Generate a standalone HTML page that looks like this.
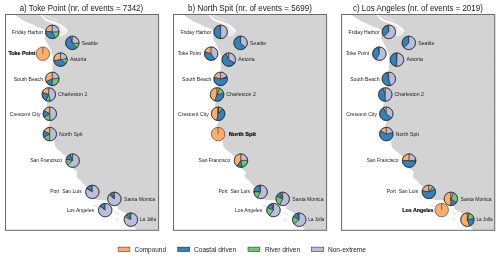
<!DOCTYPE html>
<html><head><meta charset="utf-8"><style>
html,body{margin:0;padding:0;background:#fff;width:500px;height:258px;overflow:hidden}
svg{display:block;will-change:transform}
text{font-family:"Liberation Sans",sans-serif;fill:#1a1a1a}
.e{stroke:#1e1e1e;stroke-width:0.55}
</style></head><body>
<svg width="500" height="258" viewBox="0 0 500 258"><g style="opacity:0.999">
<g>
<polygon points="14.60,14.50 18.50,17.20 22.80,19.90 26.00,22.10 31.40,24.00 36.90,26.70 41.20,27.90 43.90,29.70 45.70,30.50 44.90,35.10 44.50,38.50 47.10,42.80 49.20,47.00 50.90,50.40 51.70,52.00 52.60,56.00 52.60,60.90 52.40,68.50 52.60,72.00 52.00,78.00 50.60,86.00 48.50,95.00 47.10,103.10 46.60,106.50 47.50,112.00 49.00,118.00 50.00,122.00 48.50,126.00 46.80,129.00 47.50,134.00 53.60,139.40 54.50,142.40 55.30,147.10 58.30,150.00 62.10,153.00 65.60,156.00 69.00,162.00 72.20,167.90 75.20,170.00 77.70,172.60 76.40,174.30 76.90,178.00 80.00,180.00 83.00,183.40 86.00,186.40 89.00,193.00 92.50,198.80 99.30,200.10 107.00,200.50 112.00,203.00 117.20,205.60 118.00,209.10 125.30,213.00 130.00,220.00 133.90,226.00 136.00,229.50 136.50,230.30 158.60,230.30 158.60,14.50" fill="#d3d3d3"/>
<polygon points="41.50,14.50 43.00,15.50 44.20,17.30 45.50,17.80 46.50,19.00 48.50,19.60 50.00,20.60 52.50,21.00 54.50,21.60 56.50,22.80 58.50,23.20 60.50,24.50 62.50,25.30 64.00,26.80 65.50,27.40 67.00,29.50 68.00,31.50 67.00,32.00 65.50,30.50 63.50,29.50 61.50,27.50 59.50,26.60 57.50,25.30 55.00,24.60 53.00,23.40 50.50,23.00 48.00,21.80 46.00,21.20 44.00,19.60 42.50,17.60 40.50,15.80 39.20,14.50" fill="#fff" opacity="0.92"/>
<polyline points="44.50,14.60 47.00,16.30 50.00,17.20 53.00,18.80 56.00,19.60 58.00,21.00" fill="none" stroke="#fff" stroke-width="0.8" stroke-linejoin="round" opacity="0.7"/>
<polygon points="58.80,27.50 63.00,27.20 66.50,30.00 67.20,33.00 64.00,35.80 60.00,36.50 58.80,33.00" fill="#fff" opacity="0.6"/>
<ellipse cx="47.50" cy="20.2" rx="0.7" ry="0.4" fill="#d3d3d3" opacity="0.7"/>
<ellipse cx="53.00" cy="22.2" rx="0.8" ry="0.4" fill="#d3d3d3" opacity="0.7"/>
<ellipse cx="58.00" cy="24.4" rx="0.7" ry="0.4" fill="#d3d3d3" opacity="0.7"/>
<ellipse cx="62.50" cy="26.8" rx="0.6" ry="0.4" fill="#d3d3d3" opacity="0.7"/>
<line x1="94.2" y1="205.2" x2="98" y2="206.6" stroke="#d3d3d3" stroke-width="1.0"/>
<line x1="115.5" y1="212.1" x2="119.3" y2="214.6" stroke="#d3d3d3" stroke-width="1.0"/>
<line x1="115.5" y1="218" x2="118.5" y2="220.6" stroke="#d3d3d3" stroke-width="1.0"/>
<rect x="5.5" y="14.5" width="153.1" height="215.8" fill="none" stroke="#6a6a6a" stroke-width="1.0"/>
<path d="M52.30,31.90L52.30,25.15A6.75,6.75 0 0 0 45.58,31.30Z" fill="#fdae6b" class="e"/>
<path d="M52.30,31.90L45.58,31.30A6.75,6.75 0 0 0 55.38,37.91Z" fill="#3182bd" class="e"/>
<path d="M52.30,31.90L55.38,37.91A6.75,6.75 0 0 0 59.05,31.68Z" fill="#74c476" class="e"/>
<path d="M52.30,31.90L59.05,31.68A6.75,6.75 0 0 0 52.30,25.15Z" fill="#bcbddc" class="e"/>
<circle cx="52.30" cy="31.90" r="6.75" fill="none" class="e"/>
<text x="12.10" y="34" font-size="4.9" textLength="31.00" lengthAdjust="spacingAndGlyphs">Friday Harbor</text>
<path d="M72.30,42.90L72.30,36.15A6.75,6.75 0 0 0 70.42,36.42Z" fill="#fdae6b" class="e"/>
<path d="M72.30,42.90L70.42,36.42A6.75,6.75 0 1 0 77.07,47.67Z" fill="#3182bd" class="e"/>
<path d="M72.30,42.90L77.07,47.67A6.75,6.75 0 0 0 79.04,43.32Z" fill="#74c476" class="e"/>
<path d="M72.30,42.90L79.04,43.32A6.75,6.75 0 0 0 72.30,36.15Z" fill="#bcbddc" class="e"/>
<circle cx="72.30" cy="42.90" r="6.75" fill="none" class="e"/>
<text x="81.80" y="45" font-size="4.9" textLength="16.00" lengthAdjust="spacingAndGlyphs">Seattle</text>
<circle cx="42.90" cy="53.70" r="6.75" fill="#fdae6b"/>
<line x1="42.90" y1="53.70" x2="42.90" y2="46.95" class="e"/>
<circle cx="42.90" cy="53.70" r="6.75" fill="none" class="e"/>
<text x="8.40" y="55" font-size="4.9" textLength="26.85" lengthAdjust="spacingAndGlyphs" font-weight="bold" style="fill:#000;stroke:#000;stroke-width:0.15">Toke Point</text>
<path d="M60.50,59.65L60.50,52.90A6.75,6.75 0 0 0 53.87,60.91Z" fill="#fdae6b" class="e"/>
<path d="M60.50,59.65L53.87,60.91A6.75,6.75 0 0 0 66.08,63.44Z" fill="#3182bd" class="e"/>
<path d="M60.50,59.65L66.08,63.44A6.75,6.75 0 0 0 67.13,58.39Z" fill="#74c476" class="e"/>
<path d="M60.50,59.65L67.13,58.39A6.75,6.75 0 0 0 60.50,52.90Z" fill="#bcbddc" class="e"/>
<circle cx="60.50" cy="59.65" r="6.75" fill="none" class="e"/>
<text x="70.00" y="61" font-size="4.9" textLength="16.30" lengthAdjust="spacingAndGlyphs">Astoria</text>
<path d="M52.30,78.90L52.30,72.15A6.75,6.75 0 0 0 46.19,81.77Z" fill="#fdae6b" class="e"/>
<path d="M52.30,78.90L46.19,81.77A6.75,6.75 0 0 0 52.30,85.65Z" fill="#3182bd" class="e"/>
<path d="M52.30,78.90L52.30,85.65A6.75,6.75 0 0 0 59.00,78.05Z" fill="#74c476" class="e"/>
<path d="M52.30,78.90L59.00,78.05A6.75,6.75 0 0 0 52.30,72.15Z" fill="#bcbddc" class="e"/>
<circle cx="52.30" cy="78.90" r="6.75" fill="none" class="e"/>
<text x="13.70" y="81" font-size="4.9" textLength="29.30" lengthAdjust="spacingAndGlyphs">South Beach</text>
<path d="M48.80,94.50L48.80,87.75A6.75,6.75 0 0 0 42.38,92.41Z" fill="#fdae6b" class="e"/>
<path d="M48.80,94.50L42.38,92.41A6.75,6.75 0 0 0 45.93,100.61Z" fill="#3182bd" class="e"/>
<path d="M48.80,94.50L45.93,100.61A6.75,6.75 0 0 0 50.48,101.04Z" fill="#74c476" class="e"/>
<path d="M48.80,94.50L50.48,101.04A6.75,6.75 0 0 0 48.80,87.75Z" fill="#bcbddc" class="e"/>
<circle cx="48.80" cy="94.50" r="6.75" fill="none" class="e"/>
<text x="58.00" y="96" font-size="4.9" textLength="29.50" lengthAdjust="spacingAndGlyphs">Charleston 2</text>
<path d="M49.80,113.80L49.80,107.05A6.75,6.75 0 0 0 43.88,110.55Z" fill="#fdae6b" class="e"/>
<path d="M49.80,113.80L43.88,110.55A6.75,6.75 0 0 0 44.10,117.42Z" fill="#3182bd" class="e"/>
<path d="M49.80,113.80L44.10,117.42A6.75,6.75 0 0 0 50.22,120.54Z" fill="#74c476" class="e"/>
<path d="M49.80,113.80L50.22,120.54A6.75,6.75 0 0 0 49.80,107.05Z" fill="#bcbddc" class="e"/>
<circle cx="49.80" cy="113.80" r="6.75" fill="none" class="e"/>
<text x="9.70" y="116" font-size="4.9" textLength="30.80" lengthAdjust="spacingAndGlyphs">Crescent City</text>
<path d="M49.80,134.10L49.80,127.35A6.75,6.75 0 0 0 43.94,130.76Z" fill="#fdae6b" class="e"/>
<path d="M49.80,134.10L43.94,130.76A6.75,6.75 0 0 0 43.84,137.28Z" fill="#3182bd" class="e"/>
<path d="M49.80,134.10L43.84,137.28A6.75,6.75 0 0 0 49.74,140.85Z" fill="#74c476" class="e"/>
<path d="M49.80,134.10L49.74,140.85A6.75,6.75 0 1 0 49.80,127.35Z" fill="#bcbddc" class="e"/>
<circle cx="49.80" cy="134.10" r="6.75" fill="none" class="e"/>
<text x="59.10" y="136" font-size="4.9" textLength="23.40" lengthAdjust="spacingAndGlyphs">North Spit</text>
<path d="M72.65,160.65L72.65,153.90A6.75,6.75 0 0 0 70.18,154.37Z" fill="#fdae6b" class="e"/>
<path d="M72.65,160.65L70.18,154.37A6.75,6.75 0 0 0 66.07,159.13Z" fill="#3182bd" class="e"/>
<path d="M72.65,160.65L66.07,159.13A6.75,6.75 0 0 0 67.82,165.37Z" fill="#74c476" class="e"/>
<path d="M72.65,160.65L67.82,165.37A6.75,6.75 0 1 0 72.65,153.90Z" fill="#bcbddc" class="e"/>
<circle cx="72.65" cy="160.65" r="6.75" fill="none" class="e"/>
<text x="30.30" y="162" font-size="4.9" textLength="31.70" lengthAdjust="spacingAndGlyphs">San Francisco</text>
<path d="M92.30,191.90L92.30,185.15A6.75,6.75 0 0 0 86.77,188.04Z" fill="#3182bd" class="e"/>
<path d="M92.30,191.90L86.77,188.04A6.75,6.75 0 0 0 86.49,188.46Z" fill="#74c476" class="e"/>
<path d="M92.30,191.90L86.49,188.46A6.75,6.75 0 1 0 92.30,185.15Z" fill="#bcbddc" class="e"/>
<circle cx="92.30" cy="191.90" r="6.75" fill="none" class="e"/>
<text x="50.20" y="193" font-size="4.9" textLength="31.50" lengthAdjust="spacingAndGlyphs">Port&#160; San Luis</text>
<path d="M114.40,198.90L114.40,192.15A6.75,6.75 0 0 0 110.43,193.44Z" fill="#3182bd" class="e"/>
<path d="M114.40,198.90L110.43,193.44A6.75,6.75 0 0 0 109.07,194.76Z" fill="#74c476" class="e"/>
<path d="M114.40,198.90L109.07,194.76A6.75,6.75 0 1 0 114.40,192.15Z" fill="#bcbddc" class="e"/>
<circle cx="114.40" cy="198.90" r="6.75" fill="none" class="e"/>
<text x="124.00" y="201" font-size="4.9" textLength="31.20" lengthAdjust="spacingAndGlyphs">Santa Monica</text>
<path d="M105.20,210.10L105.20,203.35A6.75,6.75 0 0 0 100.28,205.48Z" fill="#3182bd" class="e"/>
<path d="M105.20,210.10L100.28,205.48A6.75,6.75 0 0 0 99.74,206.13Z" fill="#74c476" class="e"/>
<path d="M105.20,210.10L99.74,206.13A6.75,6.75 0 1 0 105.20,203.35Z" fill="#bcbddc" class="e"/>
<circle cx="105.20" cy="210.10" r="6.75" fill="none" class="e"/>
<text x="66.80" y="212" font-size="4.9" textLength="27.20" lengthAdjust="spacingAndGlyphs">Los Angeles</text>
<path d="M130.90,219.70L130.90,212.95A6.75,6.75 0 0 0 126.28,214.78Z" fill="#3182bd" class="e"/>
<path d="M130.90,219.70L126.28,214.78A6.75,6.75 0 0 0 124.79,216.83Z" fill="#74c476" class="e"/>
<path d="M130.90,219.70L124.79,216.83A6.75,6.75 0 1 0 130.90,212.95Z" fill="#bcbddc" class="e"/>
<circle cx="130.90" cy="219.70" r="6.75" fill="none" class="e"/>
<text x="139.90" y="221" font-size="4.9" textLength="16.10" lengthAdjust="spacingAndGlyphs">La Jolla</text>
</g>
<g>
<polygon points="182.90,14.50 186.80,17.20 191.10,19.90 194.30,22.10 199.70,24.00 205.20,26.70 209.50,27.90 212.20,29.70 214.00,30.50 213.20,35.10 212.80,38.50 215.40,42.80 217.50,47.00 219.20,50.40 220.00,52.00 220.90,56.00 220.90,60.90 220.70,68.50 220.90,72.00 220.30,78.00 218.90,86.00 216.80,95.00 215.40,103.10 214.90,106.50 215.80,112.00 217.30,118.00 218.30,122.00 216.80,126.00 215.10,129.00 215.80,134.00 221.90,139.40 222.80,142.40 223.60,147.10 226.60,150.00 230.40,153.00 233.90,156.00 237.30,162.00 240.50,167.90 243.50,170.00 246.00,172.60 244.70,174.30 245.20,178.00 248.30,180.00 251.30,183.40 254.30,186.40 257.30,193.00 260.80,198.80 267.60,200.10 275.30,200.50 280.30,203.00 285.50,205.60 286.30,209.10 293.60,213.00 298.30,220.00 302.20,226.00 304.30,229.50 304.80,230.30 326.90,230.30 326.90,14.50" fill="#d3d3d3"/>
<polygon points="209.80,14.50 211.30,15.50 212.50,17.30 213.80,17.80 214.80,19.00 216.80,19.60 218.30,20.60 220.80,21.00 222.80,21.60 224.80,22.80 226.80,23.20 228.80,24.50 230.80,25.30 232.30,26.80 233.80,27.40 235.30,29.50 236.30,31.50 235.30,32.00 233.80,30.50 231.80,29.50 229.80,27.50 227.80,26.60 225.80,25.30 223.30,24.60 221.30,23.40 218.80,23.00 216.30,21.80 214.30,21.20 212.30,19.60 210.80,17.60 208.80,15.80 207.50,14.50" fill="#fff" opacity="0.92"/>
<polyline points="212.80,14.60 215.30,16.30 218.30,17.20 221.30,18.80 224.30,19.60 226.30,21.00" fill="none" stroke="#fff" stroke-width="0.8" stroke-linejoin="round" opacity="0.7"/>
<polygon points="227.10,27.50 231.30,27.20 234.80,30.00 235.50,33.00 232.30,35.80 228.30,36.50 227.10,33.00" fill="#fff" opacity="0.6"/>
<ellipse cx="215.80" cy="20.2" rx="0.7" ry="0.4" fill="#d3d3d3" opacity="0.7"/>
<ellipse cx="221.30" cy="22.2" rx="0.8" ry="0.4" fill="#d3d3d3" opacity="0.7"/>
<ellipse cx="226.30" cy="24.4" rx="0.7" ry="0.4" fill="#d3d3d3" opacity="0.7"/>
<ellipse cx="230.80" cy="26.8" rx="0.6" ry="0.4" fill="#d3d3d3" opacity="0.7"/>
<line x1="262.5" y1="205.2" x2="266.3" y2="206.6" stroke="#d3d3d3" stroke-width="1.0"/>
<line x1="283.8" y1="212.1" x2="287.6" y2="214.6" stroke="#d3d3d3" stroke-width="1.0"/>
<line x1="283.8" y1="218" x2="286.8" y2="220.6" stroke="#d3d3d3" stroke-width="1.0"/>
<rect x="173.5" y="14.5" width="153.1" height="215.8" fill="none" stroke="#6a6a6a" stroke-width="1.0"/>
<path d="M220.60,31.90L220.60,25.15A6.75,6.75 0 0 0 219.96,25.18Z" fill="#fdae6b" class="e"/>
<path d="M220.60,31.90L219.96,25.18A6.75,6.75 0 0 0 220.81,38.65Z" fill="#3182bd" class="e"/>
<path d="M220.60,31.90L220.81,38.65A6.75,6.75 0 0 0 220.60,25.15Z" fill="#bcbddc" class="e"/>
<circle cx="220.60" cy="31.90" r="6.75" fill="none" class="e"/>
<text x="180.40" y="34" font-size="4.9" textLength="31.00" lengthAdjust="spacingAndGlyphs">Friday Harbor</text>
<path d="M240.60,42.90L240.60,36.15A6.75,6.75 0 0 0 240.39,36.15Z" fill="#fdae6b" class="e"/>
<path d="M240.60,42.90L240.39,36.15A6.75,6.75 0 1 0 245.52,47.52Z" fill="#3182bd" class="e"/>
<path d="M240.60,42.90L245.52,47.52A6.75,6.75 0 0 0 240.60,36.15Z" fill="#bcbddc" class="e"/>
<circle cx="240.60" cy="42.90" r="6.75" fill="none" class="e"/>
<text x="250.10" y="45" font-size="4.9" textLength="16.00" lengthAdjust="spacingAndGlyphs">Seattle</text>
<path d="M211.20,53.70L211.20,46.95A6.75,6.75 0 0 0 204.66,52.01Z" fill="#fdae6b" class="e"/>
<path d="M211.20,53.70L204.66,52.01A6.75,6.75 0 0 0 215.01,59.27Z" fill="#3182bd" class="e"/>
<path d="M211.20,53.70L215.01,59.27A6.75,6.75 0 0 0 211.20,46.95Z" fill="#bcbddc" class="e"/>
<circle cx="211.20" cy="53.70" r="6.75" fill="none" class="e"/>
<text x="177.70" y="55" font-size="4.9" textLength="23.20" lengthAdjust="spacingAndGlyphs">Toke Point</text>
<path d="M228.80,59.65L228.80,52.90A6.75,6.75 0 0 0 225.93,53.54Z" fill="#fdae6b" class="e"/>
<path d="M228.80,59.65L225.93,53.54A6.75,6.75 0 1 0 234.38,63.44Z" fill="#3182bd" class="e"/>
<path d="M228.80,59.65L234.38,63.44A6.75,6.75 0 0 0 234.72,62.90Z" fill="#74c476" class="e"/>
<path d="M228.80,59.65L234.72,62.90A6.75,6.75 0 0 0 228.80,52.90Z" fill="#bcbddc" class="e"/>
<circle cx="228.80" cy="59.65" r="6.75" fill="none" class="e"/>
<text x="238.30" y="61" font-size="4.9" textLength="16.30" lengthAdjust="spacingAndGlyphs">Astoria</text>
<path d="M220.60,78.90L220.60,72.15A6.75,6.75 0 0 0 214.01,77.43Z" fill="#fdae6b" class="e"/>
<path d="M220.60,78.90L214.01,77.43A6.75,6.75 0 1 0 227.17,77.34Z" fill="#3182bd" class="e"/>
<path d="M220.60,78.90L227.17,77.34A6.75,6.75 0 0 0 226.95,76.61Z" fill="#74c476" class="e"/>
<path d="M220.60,78.90L226.95,76.61A6.75,6.75 0 0 0 220.60,72.15Z" fill="#bcbddc" class="e"/>
<circle cx="220.60" cy="78.90" r="6.75" fill="none" class="e"/>
<text x="182.00" y="81" font-size="4.9" textLength="29.30" lengthAdjust="spacingAndGlyphs">South Beach</text>
<path d="M217.10,94.50L217.10,87.75A6.75,6.75 0 0 0 214.81,100.85Z" fill="#fdae6b" class="e"/>
<path d="M217.10,94.50L214.81,100.85A6.75,6.75 0 0 0 223.77,93.44Z" fill="#3182bd" class="e"/>
<path d="M217.10,94.50L223.77,93.44A6.75,6.75 0 0 0 219.39,88.15Z" fill="#74c476" class="e"/>
<path d="M217.10,94.50L219.39,88.15A6.75,6.75 0 0 0 217.10,87.75Z" fill="#bcbddc" class="e"/>
<circle cx="217.10" cy="94.50" r="6.75" fill="none" class="e"/>
<text x="226.30" y="96" font-size="4.9" textLength="29.50" lengthAdjust="spacingAndGlyphs">Charleston 2</text>
<path d="M218.10,113.80L218.10,107.05A6.75,6.75 0 0 0 216.84,120.43Z" fill="#fdae6b" class="e"/>
<path d="M218.10,113.80L216.84,120.43A6.75,6.75 0 0 0 222.40,108.60Z" fill="#3182bd" class="e"/>
<path d="M218.10,113.80L222.40,108.60A6.75,6.75 0 0 0 218.52,107.06Z" fill="#74c476" class="e"/>
<path d="M218.10,113.80L218.52,107.06A6.75,6.75 0 0 0 218.10,107.05Z" fill="#bcbddc" class="e"/>
<circle cx="218.10" cy="113.80" r="6.75" fill="none" class="e"/>
<text x="178.00" y="116" font-size="4.9" textLength="30.80" lengthAdjust="spacingAndGlyphs">Crescent City</text>
<circle cx="218.10" cy="134.10" r="6.75" fill="#fdae6b"/>
<line x1="218.10" y1="134.10" x2="218.10" y2="127.35" class="e"/>
<circle cx="218.10" cy="134.10" r="6.75" fill="none" class="e"/>
<text x="228.70" y="136" font-size="4.9" textLength="27.20" lengthAdjust="spacingAndGlyphs" font-weight="bold" style="fill:#000;stroke:#000;stroke-width:0.15">North Spit</text>
<path d="M240.95,160.65L240.95,153.90A6.75,6.75 0 0 0 236.98,166.11Z" fill="#fdae6b" class="e"/>
<path d="M240.95,160.65L236.98,166.11A6.75,6.75 0 0 0 242.21,167.28Z" fill="#3182bd" class="e"/>
<path d="M240.95,160.65L242.21,167.28A6.75,6.75 0 0 0 247.69,160.23Z" fill="#74c476" class="e"/>
<path d="M240.95,160.65L247.69,160.23A6.75,6.75 0 0 0 240.95,153.90Z" fill="#bcbddc" class="e"/>
<circle cx="240.95" cy="160.65" r="6.75" fill="none" class="e"/>
<text x="198.60" y="162" font-size="4.9" textLength="31.70" lengthAdjust="spacingAndGlyphs">San Francisco</text>
<path d="M260.60,191.90L260.60,185.15A6.75,6.75 0 0 0 259.34,185.27Z" fill="#fdae6b" class="e"/>
<path d="M260.60,191.90L259.34,185.27A6.75,6.75 0 0 0 253.85,191.90Z" fill="#3182bd" class="e"/>
<path d="M260.60,191.90L253.85,191.90A6.75,6.75 0 0 0 257.54,197.91Z" fill="#74c476" class="e"/>
<path d="M260.60,191.90L257.54,197.91A6.75,6.75 0 1 0 260.60,185.15Z" fill="#bcbddc" class="e"/>
<circle cx="260.60" cy="191.90" r="6.75" fill="none" class="e"/>
<text x="218.50" y="193" font-size="4.9" textLength="31.50" lengthAdjust="spacingAndGlyphs">Port&#160; San Luis</text>
<path d="M282.70,198.90L282.70,192.15A6.75,6.75 0 0 0 280.41,192.55Z" fill="#fdae6b" class="e"/>
<path d="M282.70,198.90L280.41,192.55A6.75,6.75 0 0 0 276.42,196.42Z" fill="#3182bd" class="e"/>
<path d="M282.70,198.90L276.42,196.42A6.75,6.75 0 0 0 279.83,205.01Z" fill="#74c476" class="e"/>
<path d="M282.70,198.90L279.83,205.01A6.75,6.75 0 1 0 282.70,192.15Z" fill="#bcbddc" class="e"/>
<circle cx="282.70" cy="198.90" r="6.75" fill="none" class="e"/>
<text x="292.30" y="201" font-size="4.9" textLength="31.20" lengthAdjust="spacingAndGlyphs">Santa Monica</text>
<path d="M273.50,210.10L273.50,203.35A6.75,6.75 0 0 0 271.82,203.56Z" fill="#fdae6b" class="e"/>
<path d="M273.50,210.10L271.82,203.56A6.75,6.75 0 0 0 267.22,207.62Z" fill="#3182bd" class="e"/>
<path d="M273.50,210.10L267.22,207.62A6.75,6.75 0 0 0 269.53,215.56Z" fill="#74c476" class="e"/>
<path d="M273.50,210.10L269.53,215.56A6.75,6.75 0 1 0 273.50,203.35Z" fill="#bcbddc" class="e"/>
<circle cx="273.50" cy="210.10" r="6.75" fill="none" class="e"/>
<text x="235.10" y="212" font-size="4.9" textLength="27.20" lengthAdjust="spacingAndGlyphs">Los Angeles</text>
<path d="M299.20,219.70L299.20,212.95A6.75,6.75 0 0 0 298.14,213.03Z" fill="#fdae6b" class="e"/>
<path d="M299.20,219.70L298.14,213.03A6.75,6.75 0 0 0 293.09,216.83Z" fill="#3182bd" class="e"/>
<path d="M299.20,219.70L293.09,216.83A6.75,6.75 0 0 0 294.14,224.16Z" fill="#74c476" class="e"/>
<path d="M299.20,219.70L294.14,224.16A6.75,6.75 0 1 0 299.20,212.95Z" fill="#bcbddc" class="e"/>
<circle cx="299.20" cy="219.70" r="6.75" fill="none" class="e"/>
<text x="308.20" y="221" font-size="4.9" textLength="16.10" lengthAdjust="spacingAndGlyphs">La Jolla</text>
</g>
<g>
<polygon points="351.10,14.50 355.00,17.20 359.30,19.90 362.50,22.10 367.90,24.00 373.40,26.70 377.70,27.90 380.40,29.70 382.20,30.50 381.40,35.10 381.00,38.50 383.60,42.80 385.70,47.00 387.40,50.40 388.20,52.00 389.10,56.00 389.10,60.90 388.90,68.50 389.10,72.00 388.50,78.00 387.10,86.00 385.00,95.00 383.60,103.10 383.10,106.50 384.00,112.00 385.50,118.00 386.50,122.00 385.00,126.00 383.30,129.00 384.00,134.00 390.10,139.40 391.00,142.40 391.80,147.10 394.80,150.00 398.60,153.00 402.10,156.00 405.50,162.00 408.70,167.90 411.70,170.00 414.20,172.60 412.90,174.30 413.40,178.00 416.50,180.00 419.50,183.40 422.50,186.40 425.50,193.00 429.00,198.80 435.80,200.10 443.50,200.50 448.50,203.00 453.70,205.60 454.50,209.10 461.80,213.00 466.50,220.00 470.40,226.00 472.50,229.50 473.00,230.30 495.10,230.30 495.10,14.50" fill="#d3d3d3"/>
<polygon points="378.00,14.50 379.50,15.50 380.70,17.30 382.00,17.80 383.00,19.00 385.00,19.60 386.50,20.60 389.00,21.00 391.00,21.60 393.00,22.80 395.00,23.20 397.00,24.50 399.00,25.30 400.50,26.80 402.00,27.40 403.50,29.50 404.50,31.50 403.50,32.00 402.00,30.50 400.00,29.50 398.00,27.50 396.00,26.60 394.00,25.30 391.50,24.60 389.50,23.40 387.00,23.00 384.50,21.80 382.50,21.20 380.50,19.60 379.00,17.60 377.00,15.80 375.70,14.50" fill="#fff" opacity="0.92"/>
<polyline points="381.00,14.60 383.50,16.30 386.50,17.20 389.50,18.80 392.50,19.60 394.50,21.00" fill="none" stroke="#fff" stroke-width="0.8" stroke-linejoin="round" opacity="0.7"/>
<polygon points="395.30,27.50 399.50,27.20 403.00,30.00 403.70,33.00 400.50,35.80 396.50,36.50 395.30,33.00" fill="#fff" opacity="0.6"/>
<ellipse cx="384.00" cy="20.2" rx="0.7" ry="0.4" fill="#d3d3d3" opacity="0.7"/>
<ellipse cx="389.50" cy="22.2" rx="0.8" ry="0.4" fill="#d3d3d3" opacity="0.7"/>
<ellipse cx="394.50" cy="24.4" rx="0.7" ry="0.4" fill="#d3d3d3" opacity="0.7"/>
<ellipse cx="399.00" cy="26.8" rx="0.6" ry="0.4" fill="#d3d3d3" opacity="0.7"/>
<line x1="430.7" y1="205.2" x2="434.5" y2="206.6" stroke="#d3d3d3" stroke-width="1.0"/>
<line x1="452.0" y1="212.1" x2="455.8" y2="214.6" stroke="#d3d3d3" stroke-width="1.0"/>
<line x1="452.0" y1="218" x2="455.0" y2="220.6" stroke="#d3d3d3" stroke-width="1.0"/>
<rect x="341.6" y="14.5" width="153.1" height="215.8" fill="none" stroke="#6a6a6a" stroke-width="1.0"/>
<path d="M388.80,31.90L388.80,25.15A6.75,6.75 0 0 0 387.54,25.27Z" fill="#fdae6b" class="e"/>
<path d="M388.80,31.90L387.54,25.27A6.75,6.75 0 0 0 383.88,36.52Z" fill="#3182bd" class="e"/>
<path d="M388.80,31.90L383.88,36.52A6.75,6.75 0 1 0 388.80,25.15Z" fill="#bcbddc" class="e"/>
<circle cx="388.80" cy="31.90" r="6.75" fill="none" class="e"/>
<text x="348.60" y="34" font-size="4.9" textLength="31.00" lengthAdjust="spacingAndGlyphs">Friday Harbor</text>
<path d="M408.80,42.90L408.80,36.15A6.75,6.75 0 0 0 408.38,36.16Z" fill="#fdae6b" class="e"/>
<path d="M408.80,42.90L408.38,36.16A6.75,6.75 0 0 0 404.18,47.82Z" fill="#3182bd" class="e"/>
<path d="M408.80,42.90L404.18,47.82A6.75,6.75 0 1 0 408.80,36.15Z" fill="#bcbddc" class="e"/>
<circle cx="408.80" cy="42.90" r="6.75" fill="none" class="e"/>
<text x="418.30" y="45" font-size="4.9" textLength="16.00" lengthAdjust="spacingAndGlyphs">Seattle</text>
<path d="M379.40,53.70L379.40,46.95A6.75,6.75 0 0 0 377.93,47.11Z" fill="#fdae6b" class="e"/>
<path d="M379.40,53.70L377.93,47.11A6.75,6.75 0 0 0 376.15,59.62Z" fill="#3182bd" class="e"/>
<path d="M379.40,53.70L376.15,59.62A6.75,6.75 0 1 0 379.40,46.95Z" fill="#bcbddc" class="e"/>
<circle cx="379.40" cy="53.70" r="6.75" fill="none" class="e"/>
<text x="345.90" y="55" font-size="4.9" textLength="23.20" lengthAdjust="spacingAndGlyphs">Toke Point</text>
<path d="M397.00,59.65L397.00,52.90A6.75,6.75 0 0 0 395.94,52.98Z" fill="#fdae6b" class="e"/>
<path d="M397.00,59.65L395.94,52.98A6.75,6.75 0 0 0 396.58,66.39Z" fill="#3182bd" class="e"/>
<path d="M397.00,59.65L396.58,66.39A6.75,6.75 0 1 0 397.00,52.90Z" fill="#bcbddc" class="e"/>
<circle cx="397.00" cy="59.65" r="6.75" fill="none" class="e"/>
<text x="406.50" y="61" font-size="4.9" textLength="16.30" lengthAdjust="spacingAndGlyphs">Astoria</text>
<path d="M388.80,78.90L388.80,72.15A6.75,6.75 0 0 0 387.12,72.36Z" fill="#fdae6b" class="e"/>
<path d="M388.80,78.90L387.12,72.36A6.75,6.75 0 0 0 390.48,85.44Z" fill="#3182bd" class="e"/>
<path d="M388.80,78.90L390.48,85.44A6.75,6.75 0 0 0 388.80,72.15Z" fill="#bcbddc" class="e"/>
<circle cx="388.80" cy="78.90" r="6.75" fill="none" class="e"/>
<text x="350.20" y="81" font-size="4.9" textLength="29.30" lengthAdjust="spacingAndGlyphs">South Beach</text>
<path d="M385.30,94.50L385.30,87.75A6.75,6.75 0 0 0 382.82,88.22Z" fill="#fdae6b" class="e"/>
<path d="M385.30,94.50L382.82,88.22A6.75,6.75 0 0 0 385.30,101.25Z" fill="#3182bd" class="e"/>
<path d="M385.30,94.50L385.30,101.25A6.75,6.75 0 0 0 385.30,87.75Z" fill="#bcbddc" class="e"/>
<circle cx="385.30" cy="94.50" r="6.75" fill="none" class="e"/>
<text x="394.50" y="96" font-size="4.9" textLength="29.50" lengthAdjust="spacingAndGlyphs">Charleston 2</text>
<path d="M386.30,113.80L386.30,107.05A6.75,6.75 0 0 0 383.43,107.69Z" fill="#fdae6b" class="e"/>
<path d="M386.30,113.80L383.43,107.69A6.75,6.75 0 1 0 391.76,117.77Z" fill="#3182bd" class="e"/>
<path d="M386.30,113.80L391.76,117.77A6.75,6.75 0 0 0 386.30,107.05Z" fill="#bcbddc" class="e"/>
<circle cx="386.30" cy="113.80" r="6.75" fill="none" class="e"/>
<text x="346.20" y="116" font-size="4.9" textLength="30.80" lengthAdjust="spacingAndGlyphs">Crescent City</text>
<path d="M386.30,134.10L386.30,127.35A6.75,6.75 0 0 0 380.51,130.63Z" fill="#fdae6b" class="e"/>
<path d="M386.30,134.10L380.51,130.63A6.75,6.75 0 1 0 392.83,132.38Z" fill="#3182bd" class="e"/>
<path d="M386.30,134.10L392.83,132.38A6.75,6.75 0 0 0 386.30,127.35Z" fill="#bcbddc" class="e"/>
<circle cx="386.30" cy="134.10" r="6.75" fill="none" class="e"/>
<text x="395.60" y="136" font-size="4.9" textLength="23.40" lengthAdjust="spacingAndGlyphs">North Spit</text>
<path d="M409.15,160.65L409.15,153.90A6.75,6.75 0 0 0 402.40,160.65Z" fill="#fdae6b" class="e"/>
<path d="M409.15,160.65L402.40,160.65A6.75,6.75 0 0 0 415.89,161.07Z" fill="#3182bd" class="e"/>
<path d="M409.15,160.65L415.89,161.07A6.75,6.75 0 0 0 415.87,160.01Z" fill="#74c476" class="e"/>
<path d="M409.15,160.65L415.87,160.01A6.75,6.75 0 0 0 409.15,153.90Z" fill="#bcbddc" class="e"/>
<circle cx="409.15" cy="160.65" r="6.75" fill="none" class="e"/>
<text x="366.80" y="162" font-size="4.9" textLength="31.70" lengthAdjust="spacingAndGlyphs">San Francisco</text>
<path d="M428.80,191.90L428.80,185.15A6.75,6.75 0 0 0 422.13,190.89Z" fill="#fdae6b" class="e"/>
<path d="M428.80,191.90L422.13,190.89A6.75,6.75 0 1 0 434.92,189.06Z" fill="#3182bd" class="e"/>
<path d="M428.80,191.90L434.92,189.06A6.75,6.75 0 0 0 432.78,186.45Z" fill="#74c476" class="e"/>
<path d="M428.80,191.90L432.78,186.45A6.75,6.75 0 0 0 428.80,185.15Z" fill="#bcbddc" class="e"/>
<circle cx="428.80" cy="191.90" r="6.75" fill="none" class="e"/>
<text x="386.70" y="193" font-size="4.9" textLength="31.50" lengthAdjust="spacingAndGlyphs">Port&#160; San Luis</text>
<path d="M450.90,198.90L450.90,192.15A6.75,6.75 0 0 0 450.90,205.65Z" fill="#fdae6b" class="e"/>
<path d="M450.90,198.90L450.90,205.65A6.75,6.75 0 0 0 456.60,202.52Z" fill="#3182bd" class="e"/>
<path d="M450.90,198.90L456.60,202.52A6.75,6.75 0 0 0 453.38,192.62Z" fill="#74c476" class="e"/>
<path d="M450.90,198.90L453.38,192.62A6.75,6.75 0 0 0 450.90,192.15Z" fill="#bcbddc" class="e"/>
<circle cx="450.90" cy="198.90" r="6.75" fill="none" class="e"/>
<text x="460.50" y="201" font-size="4.9" textLength="31.20" lengthAdjust="spacingAndGlyphs">Santa Monica</text>
<circle cx="441.70" cy="210.10" r="6.75" fill="#fdae6b"/>
<line x1="441.70" y1="210.10" x2="441.70" y2="203.35" class="e"/>
<circle cx="441.70" cy="210.10" r="6.75" fill="none" class="e"/>
<text x="402.20" y="212" font-size="4.9" textLength="31.40" lengthAdjust="spacingAndGlyphs" font-weight="bold" style="fill:#000;stroke:#000;stroke-width:0.15">Los Angeles</text>
<path d="M467.40,219.70L467.40,212.95A6.75,6.75 0 1 0 469.69,226.05Z" fill="#fdae6b" class="e"/>
<path d="M467.40,219.70L469.69,226.05A6.75,6.75 0 0 0 474.03,218.44Z" fill="#3182bd" class="e"/>
<path d="M467.40,219.70L474.03,218.44A6.75,6.75 0 0 0 469.08,213.16Z" fill="#74c476" class="e"/>
<path d="M467.40,219.70L469.08,213.16A6.75,6.75 0 0 0 467.40,212.95Z" fill="#bcbddc" class="e"/>
<circle cx="467.40" cy="219.70" r="6.75" fill="none" class="e"/>
<text x="476.40" y="221" font-size="4.9" textLength="16.10" lengthAdjust="spacingAndGlyphs">La Jolla</text>
</g>
<text x="19.7" y="10.9" font-size="8.8" textLength="123.40" lengthAdjust="spacingAndGlyphs">a) Toke Point (nr. of events = 7342)</text>
<text x="188.0" y="10.9" font-size="8.8" textLength="123.90" lengthAdjust="spacingAndGlyphs">b) North Spit (nr. of events = 5699)</text>
<text x="353.0" y="10.9" font-size="8.8" textLength="129.80" lengthAdjust="spacingAndGlyphs">c) Los Angeles (nr. of events = 2019)</text>
<rect x="118.10" y="247.1" width="11.80" height="4.5" fill="#fdae6b" stroke="#1e1e1e" stroke-width="0.5"/>
<text x="134.5" y="251.8" font-size="6.3" textLength="31.50" lengthAdjust="spacingAndGlyphs">Compound</text>
<rect x="177.70" y="247.1" width="12.10" height="4.5" fill="#3182bd" stroke="#1e1e1e" stroke-width="0.5"/>
<text x="194" y="251.8" font-size="6.3" textLength="42.10" lengthAdjust="spacingAndGlyphs">Coastal driven</text>
<rect x="248.00" y="247.1" width="11.90" height="4.5" fill="#74c476" stroke="#1e1e1e" stroke-width="0.5"/>
<text x="264.9" y="251.8" font-size="6.3" textLength="35.30" lengthAdjust="spacingAndGlyphs">River driven</text>
<rect x="311.40" y="247.1" width="12.40" height="4.5" fill="#bcbddc" stroke="#1e1e1e" stroke-width="0.5"/>
<text x="327.9" y="251.8" font-size="6.3" textLength="38.10" lengthAdjust="spacingAndGlyphs">Non-extreme</text>
</g></svg></body></html>
